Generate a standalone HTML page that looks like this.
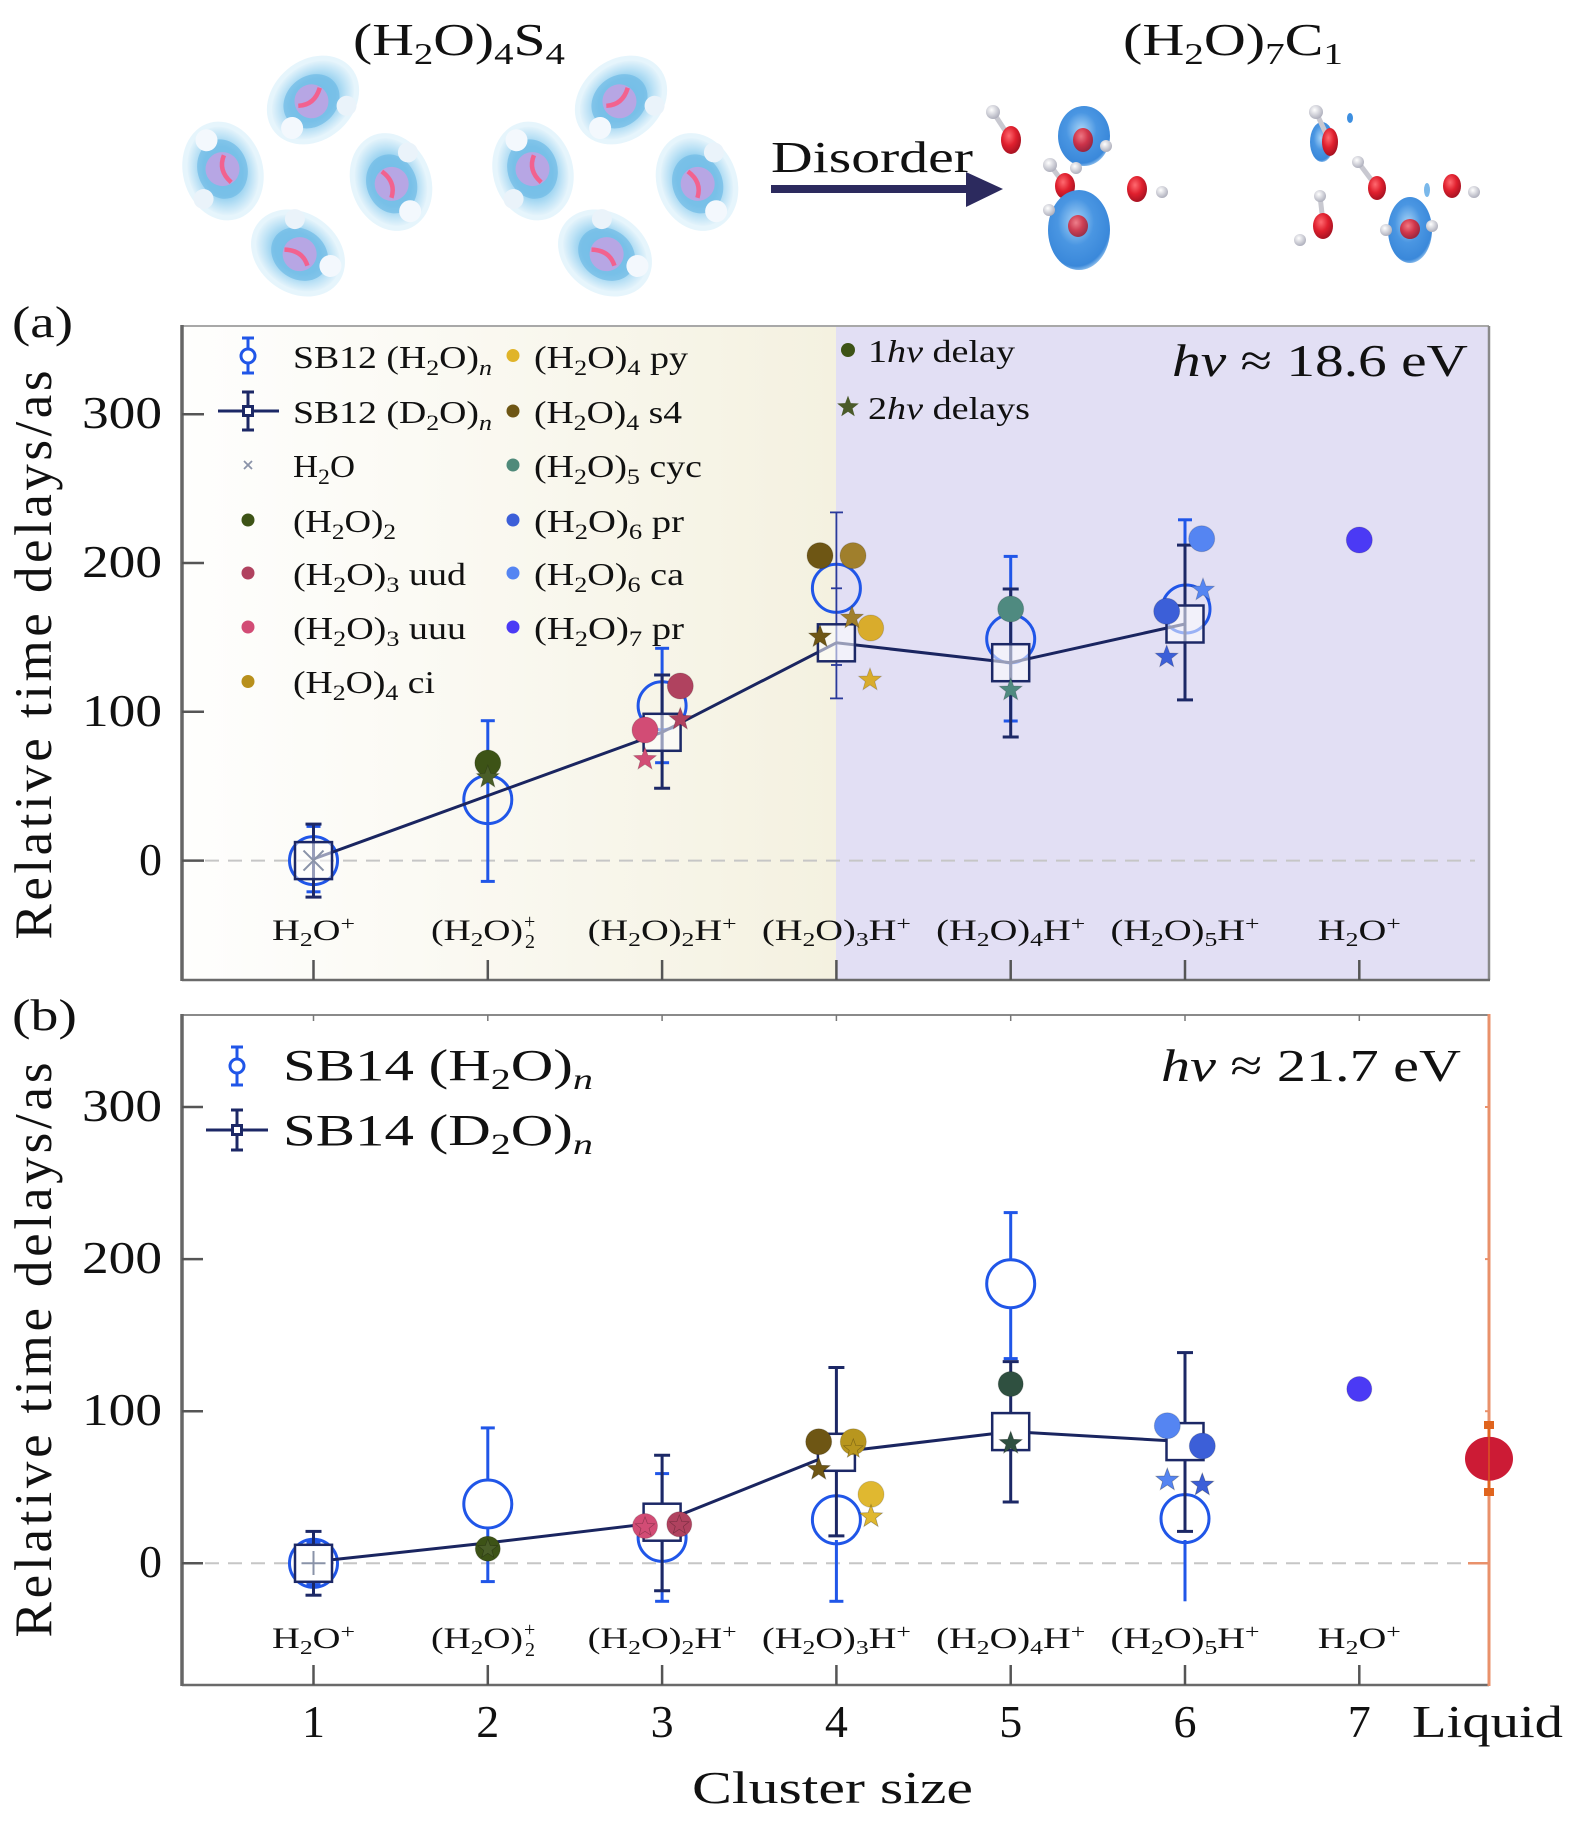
<!DOCTYPE html>
<html>
<head>
<meta charset="utf-8">
<style>
html,body{margin:0;padding:0;background:#fff;}
svg{display:block;}
text{font-family:"Liberation Serif","DejaVu Serif",serif;fill:#111;}
</style>
</head>
<body>
<svg width="1575" height="1821" viewBox="0 0 1575 1821" xmlns="http://www.w3.org/2000/svg">
<defs>
  <linearGradient id="beige" x1="0" y1="0" x2="1" y2="0">
    <stop offset="0" stop-color="#fefefd"/>
    <stop offset="0.35" stop-color="#fbfaf4"/>
    <stop offset="1" stop-color="#f4f1e0"/>
  </linearGradient>
  <radialGradient id="redg" cx="0.4" cy="0.35" r="0.7">
    <stop offset="0" stop-color="#ff6a70"/>
    <stop offset="0.5" stop-color="#e0202e"/>
    <stop offset="1" stop-color="#a01020"/>
  </radialGradient>
  <radialGradient id="blueg" cx="0.45" cy="0.4" r="0.65">
    <stop offset="0" stop-color="#a8d4f7"/>
    <stop offset="0.45" stop-color="#4a96e2"/>
    <stop offset="0.85" stop-color="#3a88da"/>
    <stop offset="1" stop-color="#c2e0f7"/>
  </radialGradient>
  <radialGradient id="hg" cx="0.4" cy="0.35" r="0.7">
    <stop offset="0" stop-color="#ffffff"/>
    <stop offset="1" stop-color="#a9aab8"/>
  </radialGradient>
  <radialGradient id="halo" cx="0.5" cy="0.5" r="0.5">
    <stop offset="0" stop-color="#7cc2ea"/>
    <stop offset="0.55" stop-color="#8ecdee"/>
    <stop offset="0.8" stop-color="#bfe3f6"/>
    <stop offset="1" stop-color="#e3f3fb"/>
  </radialGradient>
  <path id="st" d="M0,-12 L2.94,-4.05 L11.41,-3.71 L4.76,1.55 L7.05,9.71 L0,5 L-7.05,9.71 L-4.76,1.55 L-11.41,-3.71 L-2.94,-4.05Z"/>
  <g id="m">
    <ellipse rx="50" ry="40" fill="#e6f5fc"/>
    <ellipse rx="45" ry="35" fill="url(#halo)"/>
    <ellipse cx="-2" rx="30" ry="25" fill="#6fbbe6" opacity="0.7"/>
    <circle cx="-2" cy="0" r="17" fill="#b7a6e4"/>
    <path d="M-15,-5 Q-2,5 13,-5" stroke="#f2628f" stroke-width="4.5" fill="none"/>
    <circle cx="-34" cy="8" r="11" fill="#f3f8fd"/>
    <circle cx="22" cy="26" r="10" fill="#eaf3fa"/>
  </g>
</defs>

<!-- ============ TOP ILLUSTRATION ============ -->
<text x="353" y="55" font-size="46" textLength="212" lengthAdjust="spacingAndGlyphs">(H<tspan font-size="31" dy="9">2</tspan><tspan dy="-9">O)</tspan><tspan font-size="31" dy="9">4</tspan><tspan dy="-9">S</tspan><tspan font-size="31" dy="9">4</tspan></text>
<text x="1123" y="55" font-size="46" textLength="220" lengthAdjust="spacingAndGlyphs">(H<tspan font-size="31" dy="9">2</tspan><tspan dy="-9">O)</tspan><tspan font-size="31" dy="9">7</tspan><tspan dy="-9">C</tspan><tspan font-size="31" dy="9">1</tspan></text>

<use href="#m" transform="translate(313,100) rotate(-40)"/>
<use href="#m" transform="translate(223,171) rotate(75)"/>
<use href="#m" transform="translate(391,182) rotate(-110)"/>
<use href="#m" transform="translate(298,253) rotate(-145)"/>
<use href="#m" transform="translate(621,100) rotate(-40)"/>
<use href="#m" transform="translate(533,171) rotate(75)"/>
<use href="#m" transform="translate(697,182) rotate(-110)"/>
<use href="#m" transform="translate(605,253) rotate(-145)"/>

<text x="771" y="172" font-size="44" textLength="202" lengthAdjust="spacingAndGlyphs">Disorder</text>
<rect x="771" y="185" width="200" height="8" fill="#2c2a5e"/>
<polygon points="966,172 1003,189 966,207" fill="#2c2a5e"/>

<!-- (H2O)7 molecules -->
<g>
  <line x1="993" y1="112" x2="1010" y2="138" stroke="#c8c8d0" stroke-width="5"/>
  <circle cx="993" cy="112" r="7" fill="url(#hg)"/>
  <ellipse cx="1011" cy="140" rx="10" ry="14" fill="url(#redg)"/>
  <ellipse cx="1084" cy="136" rx="26" ry="30" fill="url(#blueg)"/>
  <ellipse cx="1083" cy="140" rx="10" ry="12" fill="url(#redg)" opacity="0.85"/>
  <circle cx="1106" cy="146" r="6" fill="url(#hg)"/>
  <line x1="1050" y1="165" x2="1065" y2="185" stroke="#c8c8d0" stroke-width="5"/>
  <circle cx="1050" cy="165" r="7" fill="url(#hg)"/>
  <circle cx="1076" cy="168" r="6" fill="url(#hg)"/>
  <ellipse cx="1065" cy="186" rx="10" ry="13" fill="url(#redg)"/>
  <ellipse cx="1137" cy="189" rx="10" ry="13" fill="url(#redg)"/>
  <circle cx="1162" cy="192" r="6" fill="url(#hg)"/>
  <ellipse cx="1079" cy="230" rx="31" ry="40" fill="url(#blueg)"/>
  <ellipse cx="1078" cy="226" rx="10" ry="11" fill="url(#redg)" opacity="0.8"/>
  <circle cx="1049" cy="210" r="6" fill="url(#hg)"/>

  <ellipse cx="1322" cy="142" rx="12" ry="20" fill="url(#blueg)"/>
  <line x1="1316" y1="112" x2="1328" y2="138" stroke="#c8c8d0" stroke-width="5"/>
  <circle cx="1316" cy="112" r="7" fill="url(#hg)"/>
  <ellipse cx="1330" cy="142" rx="8" ry="14" fill="url(#redg)"/>
  <ellipse cx="1350" cy="118" rx="3" ry="5" fill="#3d8fe0"/>
  <line x1="1358" y1="162" x2="1376" y2="186" stroke="#c8c8d0" stroke-width="5"/>
  <circle cx="1358" cy="162" r="6" fill="url(#hg)"/>
  <ellipse cx="1377" cy="188" rx="9" ry="12" fill="url(#redg)"/>
  <ellipse cx="1452" cy="186" rx="9" ry="12" fill="url(#redg)"/>
  <circle cx="1474" cy="192" r="6" fill="url(#hg)"/>
  <ellipse cx="1427" cy="190" rx="3" ry="7" fill="#7ab8ea"/>
  <line x1="1320" y1="196" x2="1323" y2="222" stroke="#c8c8d0" stroke-width="5"/>
  <circle cx="1320" cy="196" r="6" fill="url(#hg)"/>
  <circle cx="1300" cy="240" r="6" fill="url(#hg)"/>
  <ellipse cx="1323" cy="226" rx="10" ry="13" fill="url(#redg)"/>
  <ellipse cx="1410" cy="230" rx="22" ry="33" fill="url(#blueg)"/>
  <ellipse cx="1410" cy="229" rx="10" ry="10" fill="url(#redg)" opacity="0.85"/>
  <circle cx="1386" cy="230" r="6" fill="url(#hg)"/>
  <circle cx="1432" cy="226" r="6" fill="url(#hg)"/>
</g>

<!-- ============ PANEL (a) ============ -->
<text x="12" y="337" font-size="44" textLength="61" lengthAdjust="spacingAndGlyphs">(a)</text>
<rect x="182" y="326" width="654" height="654" fill="url(#beige)"/>
<rect x="836" y="326" width="653" height="654" fill="#e2dff4"/>

<!-- frame a -->
<line x1="182" y1="326" x2="1489" y2="326" stroke="#a8a8a8" stroke-width="2"/>
<line x1="1489" y1="326" x2="1489" y2="980" stroke="#8a8a8a" stroke-width="2.5"/>
<line x1="182" y1="980" x2="1490" y2="980" stroke="#6a6a6a" stroke-width="2.5"/>
<line x1="182" y1="325" x2="182" y2="981" stroke="#666" stroke-width="3.5"/>
<!-- y ticks a -->
<g stroke="#555" stroke-width="2.5">
  <line x1="182" y1="860.6" x2="204" y2="860.6"/>
  <line x1="182" y1="711.8" x2="204" y2="711.8"/>
  <line x1="182" y1="563" x2="204" y2="563"/>
  <line x1="182" y1="414.2" x2="204" y2="414.2"/>
</g>
<g stroke="#555" stroke-width="2.5">
  <line x1="313.5" y1="980" x2="313.5" y2="960"/>
  <line x1="487.8" y1="980" x2="487.8" y2="960"/>
  <line x1="662.1" y1="980" x2="662.1" y2="960"/>
  <line x1="836.4" y1="980" x2="836.4" y2="960"/>
  <line x1="1010.7" y1="980" x2="1010.7" y2="960"/>
  <line x1="1185" y1="980" x2="1185" y2="960"/>
  <line x1="1359.3" y1="980" x2="1359.3" y2="960"/>
</g>
<!-- y tick labels a -->
<g font-size="46" text-anchor="end">
  <text x="162" y="875">0</text>
  <text x="162" y="726" textLength="80" lengthAdjust="spacingAndGlyphs">100</text>
  <text x="162" y="577" textLength="80" lengthAdjust="spacingAndGlyphs">200</text>
  <text x="162" y="428" textLength="80" lengthAdjust="spacingAndGlyphs">300</text>
</g>
<text transform="translate(51,655) rotate(-90)" font-size="53" text-anchor="middle" textLength="569" lengthAdjust="spacing">Relative time delays/as</text>

<!-- zero line -->
<line x1="205" y1="860.6" x2="1475" y2="860.6" stroke="#c6c6c6" stroke-width="2" stroke-dasharray="14 9"/>

<!-- legend a -->
<g stroke="#2056e8" stroke-width="3" fill="none">
  <line x1="248" y1="338" x2="248" y2="373"/>
  <line x1="242" y1="338" x2="254" y2="338"/>
  <line x1="242" y1="373" x2="254" y2="373"/>
  <circle cx="248" cy="356" r="7" fill="#fff"/>
</g>
<g stroke="#1c2866" stroke-width="3" fill="none">
  <line x1="218" y1="411" x2="279" y2="411"/>
  <line x1="248" y1="392" x2="248" y2="430"/>
  <line x1="242" y1="392" x2="254" y2="392"/>
  <line x1="242" y1="430" x2="254" y2="430"/>
  <rect x="243.5" y="406.5" width="9" height="9" fill="#fff"/>
</g>
<g stroke="#8a93a8" stroke-width="1.8">
  <line x1="244" y1="461" x2="252" y2="469"/><line x1="252" y1="461" x2="244" y2="469"/>
</g>
<circle cx="248" cy="520" r="6.5" fill="#3d5316"/>
<circle cx="248" cy="573" r="6.5" fill="#b0425f"/>
<circle cx="248" cy="627" r="6.5" fill="#d24c75"/>
<circle cx="248" cy="681.5" r="6.5" fill="#b8901c"/>
<circle cx="513" cy="355.5" r="6.5" fill="#e0b429"/>
<circle cx="513" cy="411" r="6.5" fill="#6e5614"/>
<circle cx="513" cy="465" r="6.5" fill="#4f8a7a"/>
<circle cx="513" cy="520" r="6.5" fill="#3c5fd8"/>
<circle cx="513" cy="573" r="6.5" fill="#5585f2"/>
<circle cx="513" cy="627" r="6.5" fill="#4b3af5"/>
<circle cx="848" cy="350" r="7" fill="#3d5316"/>
<use href="#st" transform="translate(848,407) scale(0.95)" fill="#4a5a2a"/>

<g font-size="32">
  <text x="293" y="368" textLength="199" lengthAdjust="spacingAndGlyphs">SB12 (H<tspan font-size="22" dy="7">2</tspan><tspan dy="-7">O)</tspan><tspan font-size="22" dy="7" font-style="italic">n</tspan></text>
  <text x="293" y="423" textLength="199" lengthAdjust="spacingAndGlyphs">SB12 (D<tspan font-size="22" dy="7">2</tspan><tspan dy="-7">O)</tspan><tspan font-size="22" dy="7" font-style="italic">n</tspan></text>
  <text x="293" y="477" textLength="62" lengthAdjust="spacingAndGlyphs">H<tspan font-size="22" dy="7">2</tspan><tspan dy="-7">O</tspan></text>
  <text x="293" y="532" textLength="103" lengthAdjust="spacingAndGlyphs">(H<tspan font-size="22" dy="7">2</tspan><tspan dy="-7">O)</tspan><tspan font-size="22" dy="7">2</tspan></text>
  <text x="293" y="585" textLength="173" lengthAdjust="spacingAndGlyphs">(H<tspan font-size="22" dy="7">2</tspan><tspan dy="-7">O)</tspan><tspan font-size="22" dy="7">3</tspan><tspan dy="-7"> uud</tspan></text>
  <text x="293" y="639" textLength="173" lengthAdjust="spacingAndGlyphs">(H<tspan font-size="22" dy="7">2</tspan><tspan dy="-7">O)</tspan><tspan font-size="22" dy="7">3</tspan><tspan dy="-7"> uuu</tspan></text>
  <text x="293" y="693" textLength="142" lengthAdjust="spacingAndGlyphs">(H<tspan font-size="22" dy="7">2</tspan><tspan dy="-7">O)</tspan><tspan font-size="22" dy="7">4</tspan><tspan dy="-7"> ci</tspan></text>

  <text x="534" y="368" textLength="154" lengthAdjust="spacingAndGlyphs">(H<tspan font-size="22" dy="7">2</tspan><tspan dy="-7">O)</tspan><tspan font-size="22" dy="7">4</tspan><tspan dy="-7"> py</tspan></text>
  <text x="534" y="423" textLength="148" lengthAdjust="spacingAndGlyphs">(H<tspan font-size="22" dy="7">2</tspan><tspan dy="-7">O)</tspan><tspan font-size="22" dy="7">4</tspan><tspan dy="-7"> s4</tspan></text>
  <text x="534" y="477" textLength="168" lengthAdjust="spacingAndGlyphs">(H<tspan font-size="22" dy="7">2</tspan><tspan dy="-7">O)</tspan><tspan font-size="22" dy="7">5</tspan><tspan dy="-7"> cyc</tspan></text>
  <text x="534" y="532" textLength="150" lengthAdjust="spacingAndGlyphs">(H<tspan font-size="22" dy="7">2</tspan><tspan dy="-7">O)</tspan><tspan font-size="22" dy="7">6</tspan><tspan dy="-7"> pr</tspan></text>
  <text x="534" y="585" textLength="150" lengthAdjust="spacingAndGlyphs">(H<tspan font-size="22" dy="7">2</tspan><tspan dy="-7">O)</tspan><tspan font-size="22" dy="7">6</tspan><tspan dy="-7"> ca</tspan></text>
  <text x="534" y="639" textLength="150" lengthAdjust="spacingAndGlyphs">(H<tspan font-size="22" dy="7">2</tspan><tspan dy="-7">O)</tspan><tspan font-size="22" dy="7">7</tspan><tspan dy="-7"> pr</tspan></text>

  <text x="868" y="362" textLength="147" lengthAdjust="spacingAndGlyphs">1<tspan font-style="italic">hν</tspan> delay</text>
  <text x="868" y="419" textLength="162" lengthAdjust="spacingAndGlyphs">2<tspan font-style="italic">hν</tspan> delays</text>
</g>
<text x="1172" y="376" font-size="46" textLength="296" lengthAdjust="spacingAndGlyphs"><tspan font-style="italic">hν</tspan> ≈ 18.6 eV</text>

<!-- data a: blue error bars + circles -->
<g stroke="#2056e8" stroke-width="3" fill="none">
  <line x1="313.5" y1="826.4" x2="313.5" y2="891.8"/><line x1="306.5" y1="826.4" x2="320.5" y2="826.4"/><line x1="306.5" y1="891.8" x2="320.5" y2="891.8"/>
  <circle cx="313.5" cy="860.6" r="24"/>
  <line x1="487.8" y1="720.7" x2="487.8" y2="881.4"/><line x1="480.8" y1="720.7" x2="494.8" y2="720.7"/><line x1="480.8" y1="881.4" x2="494.8" y2="881.4"/>
  <circle cx="487.8" cy="799.6" r="24"/>
  <line x1="662.1" y1="648.3" x2="662.1" y2="762.7"/><line x1="655.1" y1="648.3" x2="669.1" y2="648.3"/><line x1="655.1" y1="762.7" x2="669.1" y2="762.7"/>
  <circle cx="662.1" cy="705.8" r="24"/>
  <circle cx="836.4" cy="588.3" r="24"/>
  <line x1="1010.7" y1="556.4" x2="1010.7" y2="721"/><line x1="1003.7" y1="556.4" x2="1017.7" y2="556.4"/><line x1="1003.7" y1="721" x2="1017.7" y2="721"/>
  <circle cx="1010.7" cy="638.9" r="24"/>
  <line x1="1185" y1="519.8" x2="1185" y2="600"/><line x1="1178" y1="519.8" x2="1192" y2="519.8"/>
  <circle cx="1186" cy="609" r="24"/>
</g>
<g stroke="#2a3a9a" stroke-width="1.8">
  <line x1="836.4" y1="512.4" x2="836.4" y2="698.4"/><line x1="830" y1="512.4" x2="843" y2="512.4"/><line x1="830" y1="698.4" x2="843" y2="698.4"/>
  <line x1="831" y1="588.3" x2="842" y2="588.3"/><line x1="831" y1="665" x2="842" y2="665"/>
</g>
<!-- dark error bars a -->
<g stroke="#1c2866" stroke-width="3">
  <line x1="313.5" y1="824.1" x2="313.5" y2="897.1"/><line x1="305.5" y1="824.1" x2="321.5" y2="824.1"/><line x1="305.5" y1="897.1" x2="321.5" y2="897.1"/>
  <line x1="662.1" y1="675" x2="662.1" y2="788.3"/><line x1="654.1" y1="675" x2="670.1" y2="675"/><line x1="654.1" y1="788.3" x2="670.1" y2="788.3"/>
  <line x1="1010.7" y1="589" x2="1010.7" y2="737"/><line x1="1002.7" y1="589" x2="1018.7" y2="589"/><line x1="1002.7" y1="737" x2="1018.7" y2="737"/>
  <line x1="1185" y1="545.1" x2="1185" y2="699.9"/><line x1="1177" y1="545.1" x2="1193" y2="545.1"/><line x1="1177" y1="699.9" x2="1193" y2="699.9"/>
</g>
<!-- line a -->
<polyline points="313.5,859 662.1,732.3 836.4,642.8 1010.7,662.7 1185,624" fill="none" stroke="#1a2560" stroke-width="3"/>
<!-- squares a -->
<g stroke="#1c2866" stroke-width="2.5" fill="#ffffff" fill-opacity="0.55">
  <rect x="295" y="842.1" width="37" height="37"/>
  <rect x="643.6" y="713.8" width="37" height="37"/>
  <rect x="817.9" y="624.3" width="37" height="37"/>
  <rect x="992.2" y="644.2" width="37" height="37"/>
  <rect x="1166.5" y="605.5" width="37" height="37"/>
</g>
<g stroke="#8a93a8" stroke-width="2">
  <line x1="303.5" y1="850.6" x2="323.5" y2="870.6"/><line x1="323.5" y1="850.6" x2="303.5" y2="870.6"/>
</g>
<!-- dots a -->
<g stroke="rgba(0,0,0,0.15)" stroke-width="1">
  <circle cx="487.8" cy="763" r="13" fill="#3d5316"/>
  <circle cx="680.3" cy="686" r="13" fill="#b0425f"/>
  <circle cx="645" cy="730" r="13" fill="#d24c75"/>
  <circle cx="820" cy="555.6" r="13" fill="#6e5614"/>
  <circle cx="853" cy="555.6" r="13" fill="#a07f2c"/>
  <circle cx="870.7" cy="628" r="13" fill="#d9ac2c"/>
  <circle cx="1010.7" cy="609" r="13" fill="#4f8a80"/>
  <circle cx="1201.7" cy="538.7" r="13" fill="#5585f2"/>
  <circle cx="1166.7" cy="611.3" r="13" fill="#3c5fd8"/>
  <circle cx="1359.3" cy="540" r="13" fill="#4b3af5"/>
</g>
<g stroke="rgba(0,0,0,0.2)" stroke-width="0.8">
  <use href="#st" transform="translate(487.8,777.3)" fill="#4a5e28"/>
  <use href="#st" transform="translate(680.3,719.3)" fill="#b0425f"/>
  <use href="#st" transform="translate(645,759.3)" fill="#d24c75"/>
  <use href="#st" transform="translate(820,636.8)" fill="#6e5614"/>
  <use href="#st" transform="translate(852,618)" fill="#a07f2c"/>
  <use href="#st" transform="translate(870,680)" fill="#d9ac2c"/>
  <use href="#st" transform="translate(1010.7,690)" fill="#4f8a80"/>
  <use href="#st" transform="translate(1203,590)" fill="#5585f2"/>
  <use href="#st" transform="translate(1166.7,657)" fill="#3c5fd8"/>
</g>
<!-- category labels a -->
<g font-size="30" text-anchor="middle">
  <text x="313.5" y="940" textLength="83" lengthAdjust="spacingAndGlyphs">H<tspan font-size="20" dy="6">2</tspan><tspan dy="-6">O</tspan><tspan font-size="20" dy="-10">+</tspan></text>
  <text x="477" y="940" textLength="92" lengthAdjust="spacingAndGlyphs">(H<tspan font-size="20" dy="6">2</tspan><tspan dy="-6">O)</tspan></text>
  <text x="524" y="928" font-size="20" text-anchor="start">+</text>
  <text x="525" y="948" font-size="20" text-anchor="start">2</text>
  <text x="662.1" y="940" textLength="149" lengthAdjust="spacingAndGlyphs">(H<tspan font-size="20" dy="6">2</tspan><tspan dy="-6">O)</tspan><tspan font-size="20" dy="6">2</tspan><tspan dy="-6">H</tspan><tspan font-size="20" dy="-10">+</tspan></text>
  <text x="836.4" y="940" textLength="149" lengthAdjust="spacingAndGlyphs">(H<tspan font-size="20" dy="6">2</tspan><tspan dy="-6">O)</tspan><tspan font-size="20" dy="6">3</tspan><tspan dy="-6">H</tspan><tspan font-size="20" dy="-10">+</tspan></text>
  <text x="1010.7" y="940" textLength="149" lengthAdjust="spacingAndGlyphs">(H<tspan font-size="20" dy="6">2</tspan><tspan dy="-6">O)</tspan><tspan font-size="20" dy="6">4</tspan><tspan dy="-6">H</tspan><tspan font-size="20" dy="-10">+</tspan></text>
  <text x="1185" y="940" textLength="149" lengthAdjust="spacingAndGlyphs">(H<tspan font-size="20" dy="6">2</tspan><tspan dy="-6">O)</tspan><tspan font-size="20" dy="6">5</tspan><tspan dy="-6">H</tspan><tspan font-size="20" dy="-10">+</tspan></text>
  <text x="1359.3" y="940" textLength="83" lengthAdjust="spacingAndGlyphs">H<tspan font-size="20" dy="6">2</tspan><tspan dy="-6">O</tspan><tspan font-size="20" dy="-10">+</tspan></text>
</g>

<!-- ============ PANEL (b) ============ -->
<text x="12" y="1030" font-size="44" textLength="65" lengthAdjust="spacingAndGlyphs">(b)</text>
<line x1="182" y1="1015" x2="1489" y2="1015" stroke="#8a8a8a" stroke-width="2"/>
<line x1="182" y1="1685" x2="1489" y2="1685" stroke="#6a6a6a" stroke-width="2.5"/>
<line x1="182" y1="1014" x2="182" y2="1686" stroke="#666" stroke-width="3.5"/>
<line x1="1489" y1="1014" x2="1489" y2="1686" stroke="#e9916b" stroke-width="3"/>
<g stroke="#555" stroke-width="2.5">
  <line x1="182" y1="1563.3" x2="203" y2="1563.3"/>
  <line x1="182" y1="1411.2" x2="203" y2="1411.2"/>
  <line x1="182" y1="1259.1" x2="203" y2="1259.1"/>
  <line x1="182" y1="1107" x2="203" y2="1107"/>
</g>
<g stroke="#555" stroke-width="2.5">
  <line x1="313.5" y1="1685" x2="313.5" y2="1665"/>
  <line x1="487.8" y1="1685" x2="487.8" y2="1665"/>
  <line x1="662.1" y1="1685" x2="662.1" y2="1665"/>
  <line x1="836.4" y1="1685" x2="836.4" y2="1665"/>
  <line x1="1010.7" y1="1685" x2="1010.7" y2="1665"/>
  <line x1="1185" y1="1685" x2="1185" y2="1665"/>
  <line x1="1359.3" y1="1685" x2="1359.3" y2="1665"/>
</g>
<g stroke="#777" stroke-width="1.5">
  <line x1="313.5" y1="1015" x2="313.5" y2="1021"/>
  <line x1="487.8" y1="1015" x2="487.8" y2="1021"/>
  <line x1="662.1" y1="1015" x2="662.1" y2="1021"/>
  <line x1="836.4" y1="1015" x2="836.4" y2="1021"/>
  <line x1="1010.7" y1="1015" x2="1010.7" y2="1021"/>
  <line x1="1185" y1="1015" x2="1185" y2="1021"/>
  <line x1="1359.3" y1="1015" x2="1359.3" y2="1021"/>
</g>
<g stroke="#e9916b" stroke-width="2">
  <line x1="1485" y1="1107" x2="1489" y2="1107"/>
  <line x1="1485" y1="1259.1" x2="1489" y2="1259.1"/>
  <line x1="1485" y1="1411.2" x2="1489" y2="1411.2"/>
</g>
<g font-size="46" text-anchor="end">
  <text x="162" y="1577">0</text>
  <text x="162" y="1425" textLength="80" lengthAdjust="spacingAndGlyphs">100</text>
  <text x="162" y="1273" textLength="80" lengthAdjust="spacingAndGlyphs">200</text>
  <text x="162" y="1121" textLength="80" lengthAdjust="spacingAndGlyphs">300</text>
</g>
<text transform="translate(51,1350) rotate(-90)" font-size="53" text-anchor="middle" textLength="575" lengthAdjust="spacing">Relative time delays/as</text>

<line x1="205" y1="1563.3" x2="1470" y2="1563.3" stroke="#c6c6c6" stroke-width="2" stroke-dasharray="14 9"/>
<line x1="1468" y1="1563.3" x2="1489" y2="1563.3" stroke="#e9916b" stroke-width="2.5"/>

<!-- legend b -->
<g stroke="#2056e8" stroke-width="3" fill="none">
  <line x1="237" y1="1047" x2="237" y2="1085"/>
  <line x1="231" y1="1047" x2="243" y2="1047"/>
  <line x1="231" y1="1085" x2="243" y2="1085"/>
  <circle cx="237" cy="1066" r="7" fill="#fff"/>
</g>
<g stroke="#1c2866" stroke-width="3" fill="none">
  <line x1="206" y1="1130" x2="268" y2="1130"/>
  <line x1="237" y1="1110" x2="237" y2="1150"/>
  <line x1="231" y1="1110" x2="243" y2="1110"/>
  <line x1="231" y1="1150" x2="243" y2="1150"/>
  <rect x="232.5" y="1125.5" width="9" height="9" fill="#fff"/>
</g>
<g font-size="44">
  <text x="283" y="1080" textLength="310" lengthAdjust="spacingAndGlyphs">SB14 (H<tspan font-size="30" dy="9">2</tspan><tspan dy="-9">O)</tspan><tspan font-size="30" dy="9" font-style="italic">n</tspan></text>
  <text x="283" y="1145" textLength="310" lengthAdjust="spacingAndGlyphs">SB14 (D<tspan font-size="30" dy="9">2</tspan><tspan dy="-9">O)</tspan><tspan font-size="30" dy="9" font-style="italic">n</tspan></text>
</g>
<text x="1161" y="1081" font-size="46" textLength="300" lengthAdjust="spacingAndGlyphs"><tspan font-style="italic">hν</tspan> ≈ 21.7 eV</text>

<!-- blue err + circles b -->
<g stroke="#2056e8" stroke-width="3" fill="none">
  <line x1="313.5" y1="1542" x2="313.5" y2="1584.6"/><line x1="306.5" y1="1542" x2="320.5" y2="1542"/><line x1="306.5" y1="1584.6" x2="320.5" y2="1584.6"/>
  <circle cx="313.5" cy="1563.3" r="24"/>
  <line x1="487.8" y1="1427.9" x2="487.8" y2="1581.6"/><line x1="480.8" y1="1427.9" x2="494.8" y2="1427.9"/><line x1="480.8" y1="1581.6" x2="494.8" y2="1581.6"/>
  <circle cx="487.8" cy="1504" r="24" fill="#fff"/>
  <line x1="662.1" y1="1473.6" x2="662.1" y2="1601.3"/><line x1="655.1" y1="1473.6" x2="669.1" y2="1473.6"/><line x1="655.1" y1="1601.3" x2="669.1" y2="1601.3"/>
  <circle cx="662.1" cy="1537.4" r="24"/>
  <line x1="836.4" y1="1540" x2="836.4" y2="1601.3"/><line x1="829.4" y1="1601.3" x2="843.4" y2="1601.3"/>
  <circle cx="836.4" cy="1519.8" r="24"/>
  <line x1="1010.7" y1="1212.6" x2="1010.7" y2="1358.6"/><line x1="1003.7" y1="1212.6" x2="1017.7" y2="1212.6"/><line x1="1003.7" y1="1358.6" x2="1017.7" y2="1358.6"/>
  <circle cx="1010.7" cy="1283.7" r="24" fill="#fff"/>
  <line x1="1185" y1="1540" x2="1185" y2="1601.3"/>
  <circle cx="1185" cy="1518.6" r="24"/>
</g>
<!-- dark err b -->
<g stroke="#1c2866" stroke-width="3">
  <line x1="313.5" y1="1531.4" x2="313.5" y2="1595.2"/><line x1="305.5" y1="1531.4" x2="321.5" y2="1531.4"/><line x1="305.5" y1="1595.2" x2="321.5" y2="1595.2"/>
  <line x1="662.1" y1="1455.3" x2="662.1" y2="1590.7"/><line x1="654.1" y1="1455.3" x2="670.1" y2="1455.3"/><line x1="654.1" y1="1590.7" x2="670.1" y2="1590.7"/>
  <line x1="836.4" y1="1367.5" x2="836.4" y2="1535.9"/><line x1="828.4" y1="1367.5" x2="844.4" y2="1367.5"/><line x1="828.4" y1="1535.9" x2="844.4" y2="1535.9"/>
  <line x1="1010.7" y1="1361.6" x2="1010.7" y2="1502"/><line x1="1002.7" y1="1361.6" x2="1018.7" y2="1361.6"/><line x1="1002.7" y1="1502" x2="1018.7" y2="1502"/>
  <line x1="1185" y1="1352.6" x2="1185" y2="1531.4"/><line x1="1177" y1="1352.6" x2="1193" y2="1352.6"/><line x1="1177" y1="1531.4" x2="1193" y2="1531.4"/>
</g>
<polyline points="313.5,1561.8 487.8,1542.9 662.1,1522.2 836.4,1452.3 1010.7,1431.6 1185,1441.6" fill="none" stroke="#1a2560" stroke-width="3"/>
<g stroke="#1c2866" stroke-width="2.5" fill="#ffffff">
  <rect x="295" y="1544.8" width="37" height="37"/>
  <rect x="643.6" y="1503.7" width="37" height="37"/>
  <rect x="817.9" y="1433.8" width="37" height="37"/>
  <rect x="992.2" y="1413.1" width="37" height="37"/>
  <rect x="1166.5" y="1423.1" width="37" height="37"/>
</g>
<g stroke="#8a93a8" stroke-width="2">
  <line x1="313.5" y1="1551" x2="313.5" y2="1575"/><line x1="301.5" y1="1563.3" x2="325.5" y2="1563.3"/>
</g>
<g stroke="rgba(0,0,0,0.15)" stroke-width="1">
  <circle cx="487.8" cy="1548.7" r="12.5" fill="#3d5316"/>
  <circle cx="645" cy="1526" r="12.5" fill="#d24c75"/>
  <circle cx="679.3" cy="1524.3" r="12.5" fill="#b0425f"/>
  <circle cx="818.7" cy="1441.7" r="13" fill="#6e5614"/>
  <circle cx="853.3" cy="1441.7" r="13" fill="#b8961e"/>
  <circle cx="871" cy="1494.3" r="13" fill="#e0b830"/>
  <circle cx="1010.7" cy="1384" r="12.5" fill="#2f5040"/>
  <circle cx="1167.3" cy="1425.7" r="13" fill="#5585f2"/>
  <circle cx="1202.3" cy="1446" r="13" fill="#3c5fd8"/>
  <circle cx="1359.3" cy="1389" r="12.5" fill="#4b3af5"/>
</g>
<g stroke="rgba(0,0,0,0.3)" stroke-width="0.8">
  <use href="#st" transform="translate(487.8,1549) scale(0.85)" fill="#4a5e28"/>
  <use href="#st" transform="translate(645,1527) scale(0.85)" fill="#d24c75"/>
  <use href="#st" transform="translate(679.3,1525) scale(0.85)" fill="#b0425f"/>
  <use href="#st" transform="translate(818.7,1469.3)" fill="#6e5614"/>
  <use href="#st" transform="translate(853.3,1449) scale(0.85)" fill="#b8961e"/>
  <use href="#st" transform="translate(871,1516.7)" fill="#e0b830"/>
  <use href="#st" transform="translate(1010.7,1443.3)" fill="#2f5040"/>
  <use href="#st" transform="translate(1167.3,1480)" fill="#5585f2"/>
  <use href="#st" transform="translate(1202.3,1485)" fill="#3c5fd8"/>
</g>
<!-- liquid -->
<line x1="1489" y1="1424.7" x2="1489" y2="1491.6" stroke="#e0641e" stroke-width="3"/>
<ellipse cx="1489" cy="1458.7" rx="24" ry="22" fill="#cc1b35"/>
<line x1="1489" y1="1430" x2="1489" y2="1488" stroke="#e0641e" stroke-width="2" opacity="0.6"/>
<rect x="1484" y="1421" width="10" height="8" fill="#e0641e"/>
<rect x="1484" y="1488" width="10" height="8" fill="#e0641e"/>

<!-- category labels b -->
<g font-size="30" text-anchor="middle">
  <text x="313.5" y="1648" textLength="83" lengthAdjust="spacingAndGlyphs">H<tspan font-size="20" dy="6">2</tspan><tspan dy="-6">O</tspan><tspan font-size="20" dy="-10">+</tspan></text>
  <text x="477" y="1648" textLength="92" lengthAdjust="spacingAndGlyphs">(H<tspan font-size="20" dy="6">2</tspan><tspan dy="-6">O)</tspan></text>
  <text x="524" y="1636" font-size="20" text-anchor="start">+</text>
  <text x="525" y="1656" font-size="20" text-anchor="start">2</text>
  <text x="662.1" y="1648" textLength="149" lengthAdjust="spacingAndGlyphs">(H<tspan font-size="20" dy="6">2</tspan><tspan dy="-6">O)</tspan><tspan font-size="20" dy="6">2</tspan><tspan dy="-6">H</tspan><tspan font-size="20" dy="-10">+</tspan></text>
  <text x="836.4" y="1648" textLength="149" lengthAdjust="spacingAndGlyphs">(H<tspan font-size="20" dy="6">2</tspan><tspan dy="-6">O)</tspan><tspan font-size="20" dy="6">3</tspan><tspan dy="-6">H</tspan><tspan font-size="20" dy="-10">+</tspan></text>
  <text x="1010.7" y="1648" textLength="149" lengthAdjust="spacingAndGlyphs">(H<tspan font-size="20" dy="6">2</tspan><tspan dy="-6">O)</tspan><tspan font-size="20" dy="6">4</tspan><tspan dy="-6">H</tspan><tspan font-size="20" dy="-10">+</tspan></text>
  <text x="1185" y="1648" textLength="149" lengthAdjust="spacingAndGlyphs">(H<tspan font-size="20" dy="6">2</tspan><tspan dy="-6">O)</tspan><tspan font-size="20" dy="6">5</tspan><tspan dy="-6">H</tspan><tspan font-size="20" dy="-10">+</tspan></text>
  <text x="1359.3" y="1648" textLength="83" lengthAdjust="spacingAndGlyphs">H<tspan font-size="20" dy="6">2</tspan><tspan dy="-6">O</tspan><tspan font-size="20" dy="-10">+</tspan></text>
</g>

<!-- x axis numbers -->
<g font-size="46" text-anchor="middle">
  <text x="313.5" y="1737">1</text>
  <text x="487.8" y="1737">2</text>
  <text x="662.1" y="1737">3</text>
  <text x="836.4" y="1737">4</text>
  <text x="1010.7" y="1737">5</text>
  <text x="1185" y="1737">6</text>
  <text x="1359.3" y="1737">7</text>
</g>
<text x="1412" y="1737" font-size="46" textLength="151" lengthAdjust="spacingAndGlyphs">Liquid</text>
<text x="692" y="1803" font-size="46" textLength="281" lengthAdjust="spacingAndGlyphs">Cluster size</text>
</svg>
</body>
</html>
